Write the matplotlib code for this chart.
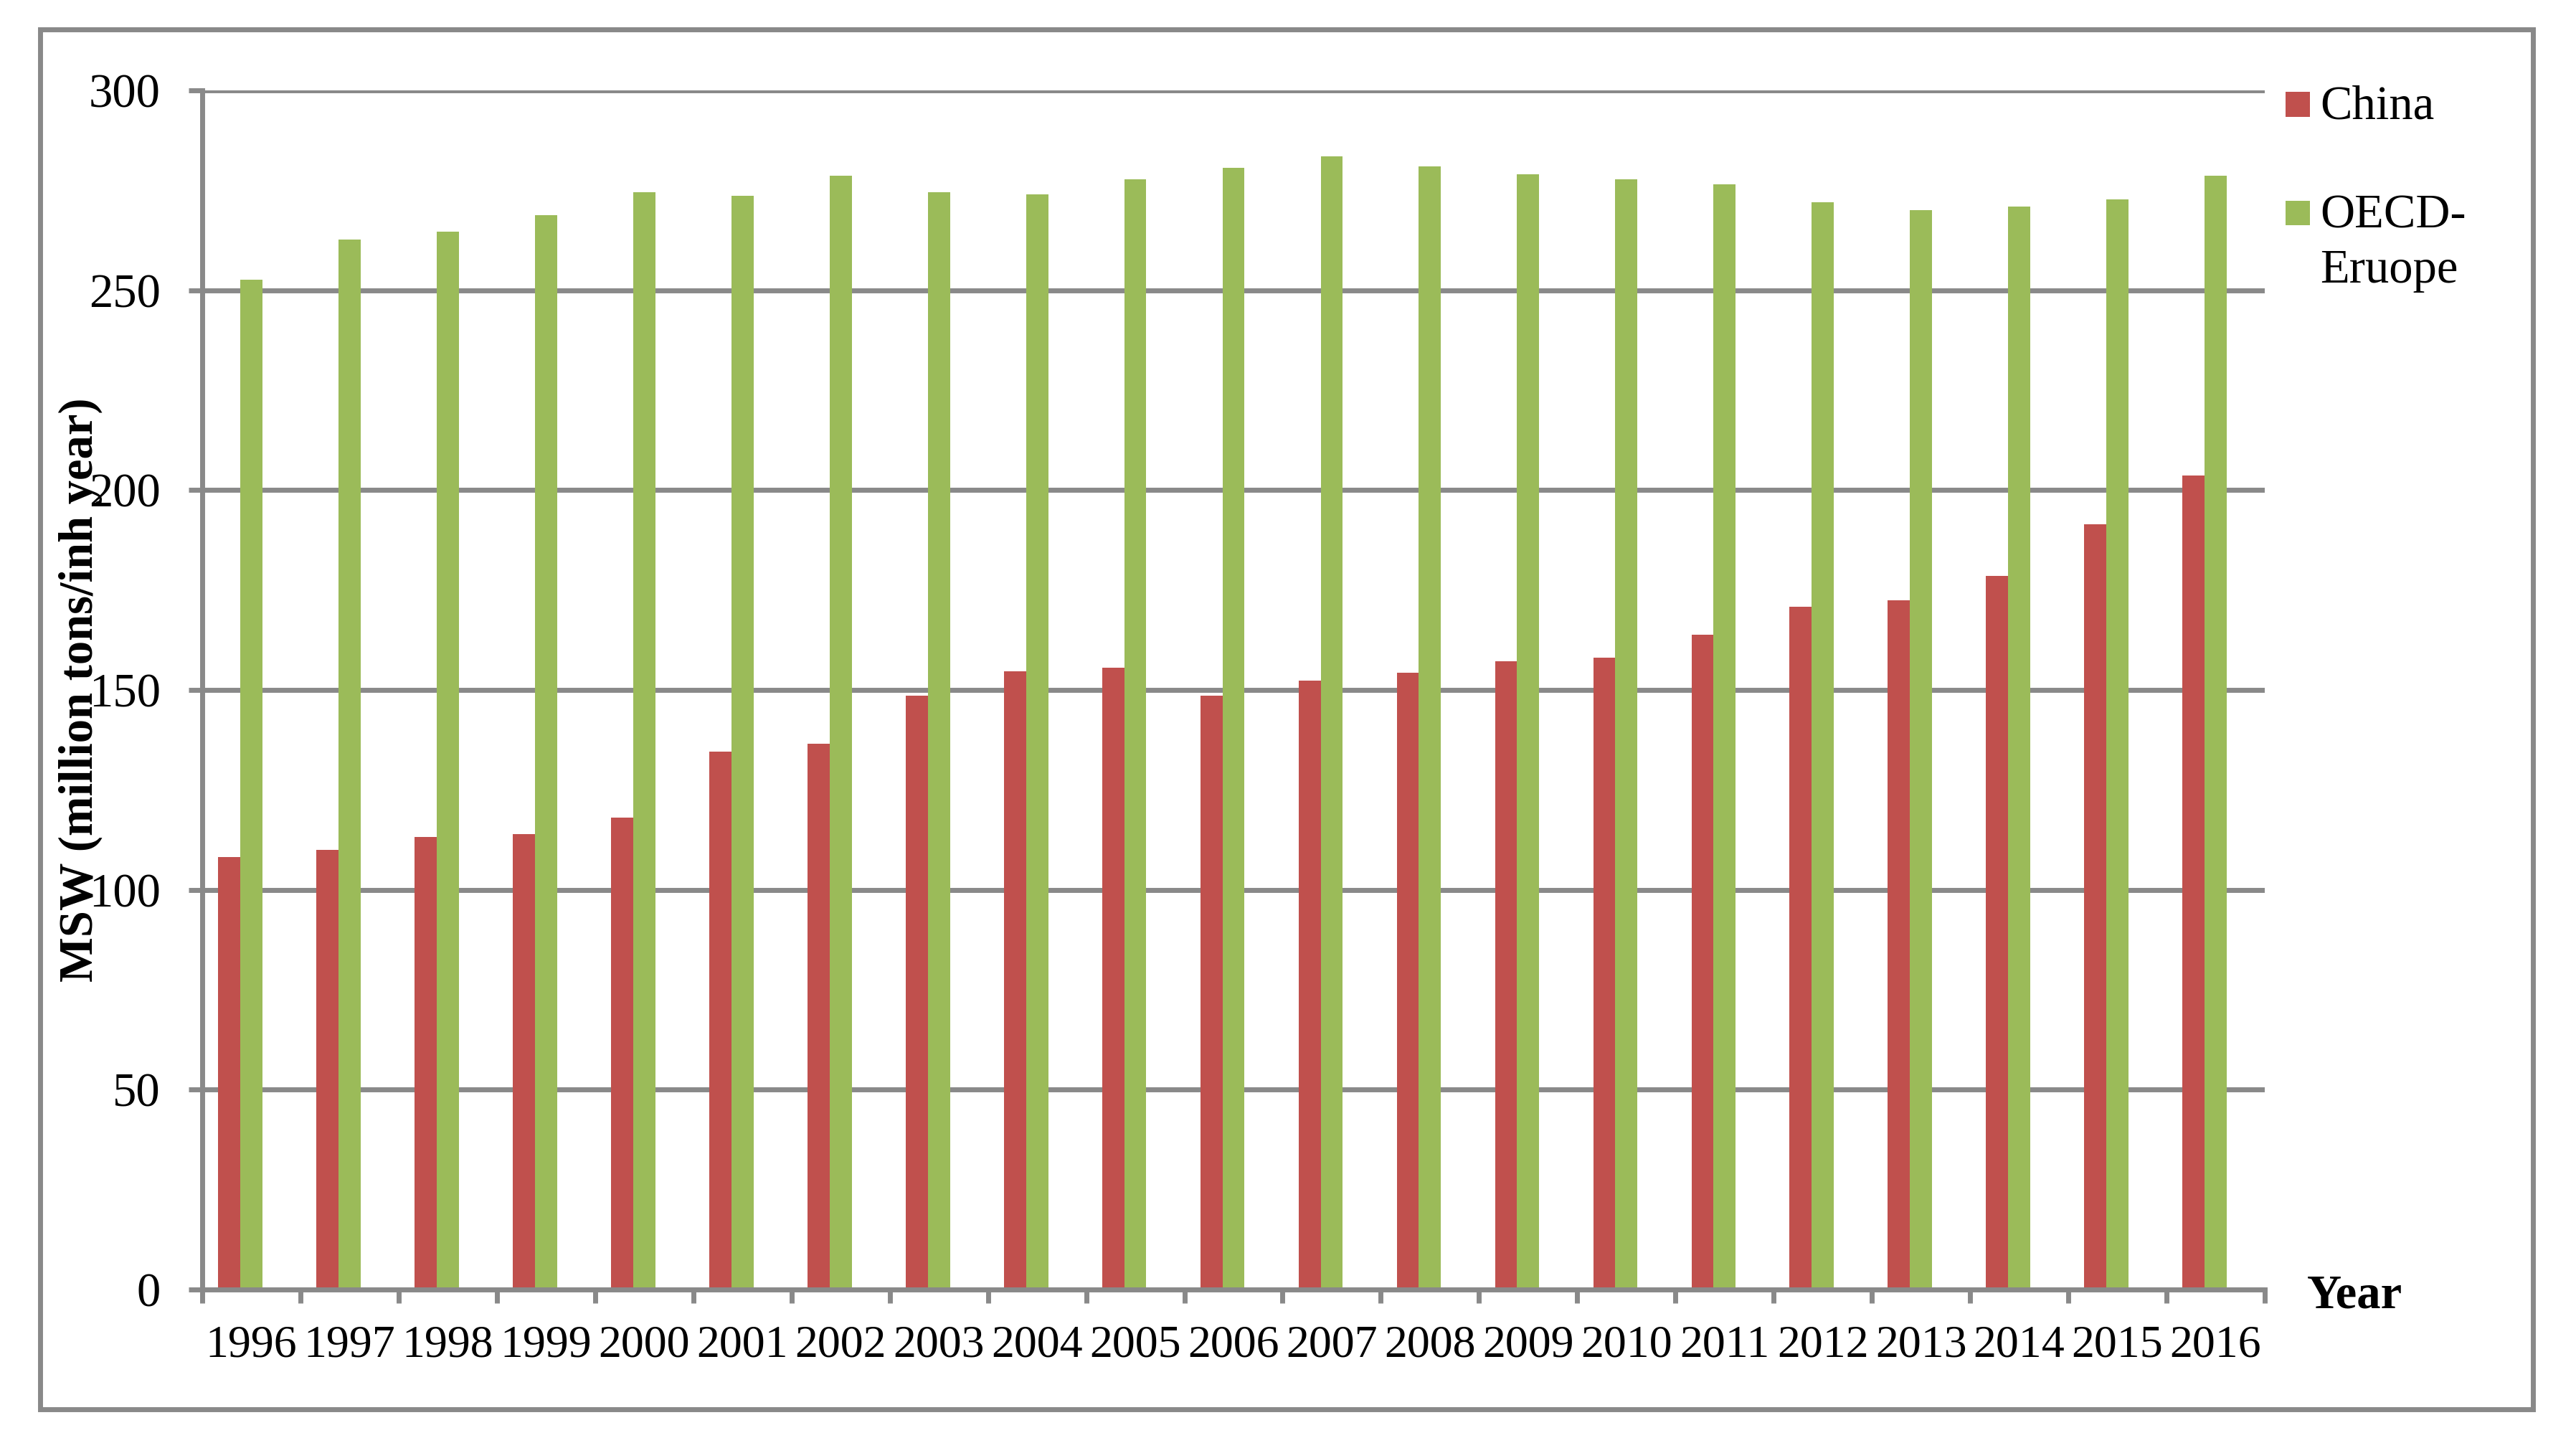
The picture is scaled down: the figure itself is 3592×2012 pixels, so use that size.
import numpy as np
import matplotlib
matplotlib.use("Agg")
import matplotlib.pyplot as plt
from matplotlib.patches import Rectangle

plt.rcParams['font.family'] = ['Liberation Serif', 'DejaVu Serif']

# Data
years = [str(y) for y in range(1996, 2017)]
china = [108.2, 109.9, 113.2, 114.0, 118.1, 134.6, 136.6, 148.6, 154.7, 155.6, 148.6,
         152.3, 154.3, 157.2, 158.0, 163.8, 170.8, 172.4, 178.6, 191.4, 203.7]
oecd_europe = [252.7, 262.6, 264.6, 268.7, 274.5, 273.7, 278.6, 274.5, 274.0, 277.8, 280.7,
               283.5, 281.0, 279.0, 277.8, 276.5, 272.0, 270.0, 271.0, 272.8, 278.6]
yticks = [0, 50, 100, 150, 200, 250, 300]

RED = '#C0504D'
GREEN = '#9BBB59'
GREY = '#898989'
W, H = 3592, 2012
FS = 48

fig = plt.figure(figsize=(W / 100, H / 100), dpi=100)
ax = fig.add_axes([282 / W, 1 - 1798 / H, (3158 - 282) / W, (1798 - 126) / H])

x = np.arange(len(years))
bw = 0.225
ax.bar(x - bw, china, width=bw, color=RED, zorder=3)
ax.bar(x, oecd_europe, width=bw, color=GREEN, zorder=3)

ax.set_xlim(-0.5, len(years) - 0.5)
ax.set_ylim(0, 300)

# y axis
ax.set_yticks(yticks)
ax.set_yticklabels([str(v) for v in yticks], fontsize=FS)
ax.yaxis.grid(True, color=GREY, linewidth=5, zorder=0)
ax.tick_params(axis='y', which='major', length=14, width=5, color=GREY, pad=28)

# x axis: tick marks between categories, labels centred
ax.set_xticks(np.arange(-0.5, len(years)), labels=[])
ax.set_xticks(x, labels=years, minor=True)
ax.tick_params(axis='x', which='major', length=14, width=5, color=GREY, direction='out')
ax.tick_params(axis='x', which='minor', length=0, labelsize=FS - 2, pad=36)

for s in ['top', 'right']:
    ax.spines[s].set_visible(False)
for s in ['left', 'bottom']:
    ax.spines[s].set_color(GREY)
    ax.spines[s].set_linewidth(5)
    ax.spines[s].set_zorder(4)

ax.set_ylabel('MSW (million tons/inh year)', fontsize=FS, fontweight='bold', va='center')
ax.yaxis.set_label_coords(-0.059, 0.5)

fig.text(3217 / W, 1 - 1823 / H, 'Year', fontsize=FS, fontweight='bold', ha='left', va='baseline')

# legend, drawn by hand to match the layout
fig.add_artist(Rectangle((3187 / W, 1 - 163 / H), 34 / W, 35 / H, transform=fig.transFigure,
                         facecolor=RED, edgecolor='none'))
fig.text(3235 / W, 1 - 166 / H, 'China', fontsize=FS, ha='left', va='baseline')
fig.add_artist(Rectangle((3187 / W, 1 - 314 / H), 34 / W, 34 / H, transform=fig.transFigure,
                         facecolor=GREEN, edgecolor='none'))
fig.text(3235 / W, 1 - 318 / H, 'OECD-', fontsize=FS, ha='left', va='baseline')
fig.text(3235 / W, 1 - 394 / H, 'Eruope', fontsize=FS, ha='left', va='baseline')

# chart border
fig.add_artist(Rectangle((56 / W, 1 - 1965 / H), (3532 - 56) / W, (1965 - 41) / H,
                         transform=fig.transFigure, facecolor='none', edgecolor=GREY, linewidth=5))

fig.savefig('out.png', dpi=100)
